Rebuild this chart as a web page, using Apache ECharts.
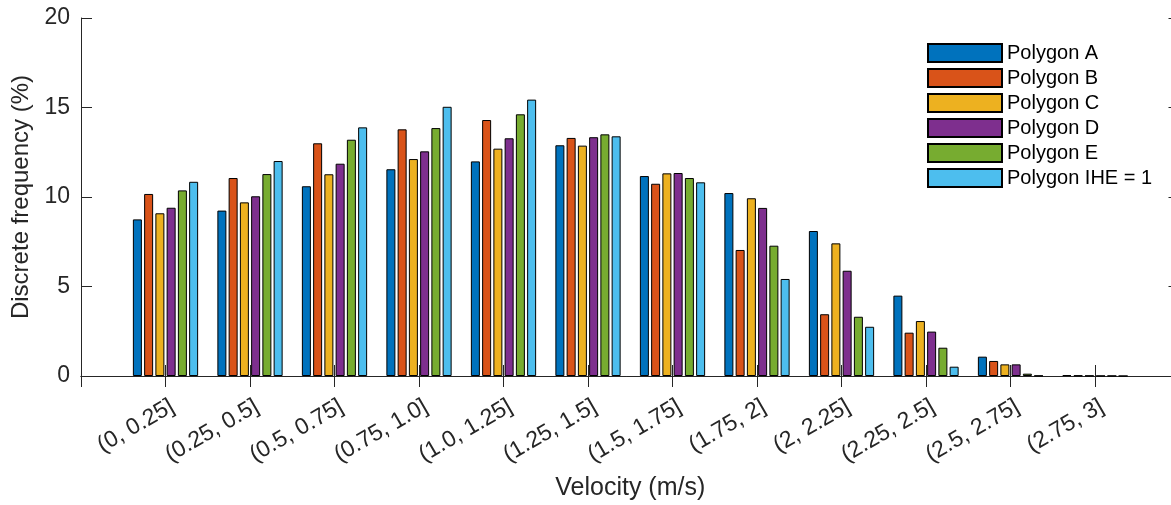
<!DOCTYPE html>
<html>
<head>
<meta charset="utf-8">
<style>
  html, body { margin: 0; padding: 0; background: #fff; }
  #main { width: 1171px; height: 505px; }
</style>
<script src="https://cdn.jsdelivr.net/npm/echarts@6/dist/echarts.min.js"></script>
</head>
<body>
<div id="main"></div>
<script>
var categories = ['(0, 0.25]', '(0.25, 0.5]', '(0.5, 0.75]', '(0.75, 1.0]', '(1.0, 1.25]', '(1.25, 1.5]',
    '(1.5, 1.75]', '(1.75, 2]', '(2, 2.25]', '(2.25, 2.5]', '(2.5, 2.75]', '(2.75, 3]'];
var seriesNames = ['Polygon A', 'Polygon B', 'Polygon C', 'Polygon D', 'Polygon E', 'Polygon IHE = 1'];
var polygonA = [8.75, 9.24, 10.60, 11.55, 11.99, 12.89, 11.17, 10.22, 8.10, 4.49, 1.08, 0.05];
var polygonB = [10.17, 11.06, 13.00, 13.78, 14.30, 13.30, 10.74, 7.04, 3.45, 2.42, 0.84, 0.03];
var polygonC = [9.09, 9.70, 11.27, 12.12, 12.70, 12.87, 11.32, 9.93, 7.41, 3.07, 0.65, 0.02];
var polygonD = [9.40, 10.04, 11.86, 12.55, 13.28, 13.34, 11.34, 9.39, 5.88, 2.48, 0.65, 0.01];
var polygonE = [10.37, 11.28, 13.20, 13.85, 14.62, 13.50, 11.06, 7.28, 3.31, 1.58, 0.13, 0.01];
var polygonIHE = [10.85, 12.01, 13.89, 15.04, 15.44, 13.39, 10.82, 5.42, 2.75, 0.52, 0.02, 0.00];
var yTicks = [0, 5, 10, 15, 20];

var colors = ['#0072BD', '#D95319', '#EDB120', '#7E2F8E', '#77AC30', '#4DBEEE'];
var allData = [polygonA, polygonB, polygonC, polygonD, polygonE, polygonIHE];

var chart = echarts.init(document.getElementById('main'));
var axisColor = '#262626';
var font = 'Liberation Sans, Arial, Helvetica, sans-serif';

// padded with an empty slot at each end so the groups sit like MATLAB's xlim [0, 13]
var xData = [''].concat(categories, ['']);

var series = seriesNames.map(function (name, i) {
    return {
        name: name,
        type: 'bar',
        barWidth: 9,
        barGap: '25%',
        itemStyle: { color: colors[i], borderColor: '#000', borderWidth: 1 },
        data: [null].concat(allData[i], [null])
    };
});

var option = {
    animation: false,
    grid: { left: 81, right: -8.5, top: 18, bottom: 129, outerBoundsMode: 'none' },
    legend: {
        orient: 'vertical',
        left: 927,
        top: 43,
        padding: 0,
        itemWidth: 74,
        itemHeight: 18,
        itemGap: 5,
        icon: 'rect',
        textStyle: { fontFamily: font, fontSize: 20, lineHeight: 18, color: '#000' },
        data: seriesNames
    },
    xAxis: [{
        type: 'category',
        data: xData,
        boundaryGap: false,
        name: 'Velocity (m/s)',
        nameLocation: 'middle',
        nameGap: 100,
        nameTextStyle: { fontFamily: font, fontSize: 25, color: axisColor },
        axisLine: { lineStyle: { color: axisColor, width: 1 } },
        axisTick: { inside: true, length: 11, interval: 0, lineStyle: { color: axisColor } },
        axisLabel: { interval: 0, rotate: 30, margin: 33, padding: [0, -8, 0, 0], fontFamily: font, fontSize: 23, color: axisColor },
        splitLine: { show: false }
    }, {
        type: 'category',
        data: xData,
        boundaryGap: false,
        position: 'top',
        axisLine: { lineStyle: { color: axisColor, width: 1 } },
        axisTick: { inside: true, length: 11, interval: 0, lineStyle: { color: axisColor } },
        axisLabel: { show: false },
        splitLine: { show: false }
    }],
    yAxis: [{
        type: 'value',
        min: yTicks[0],
        max: yTicks[yTicks.length - 1],
        interval: 5,
        name: 'Discrete frequency (%)',
        nameLocation: 'middle',
        nameGap: 46,
        nameTextStyle: { fontFamily: font, fontSize: 24, color: axisColor },
        axisLine: { show: true, lineStyle: { color: axisColor, width: 1 } },
        axisTick: { show: true, inside: true, length: 11, lineStyle: { color: axisColor } },
        axisLabel: { margin: 11, fontFamily: font, fontSize: 23, color: axisColor },
        splitLine: { show: false }
    }, {
        type: 'value',
        min: yTicks[0],
        max: yTicks[yTicks.length - 1],
        interval: 5,
        position: 'right',
        axisLine: { show: true, lineStyle: { color: axisColor, width: 1 } },
        axisTick: { show: true, inside: true, length: 11, lineStyle: { color: axisColor } },
        axisLabel: { show: false },
        splitLine: { show: false }
    }],
    series: series
};
chart.setOption(option);
</script>
</body>
</html>
